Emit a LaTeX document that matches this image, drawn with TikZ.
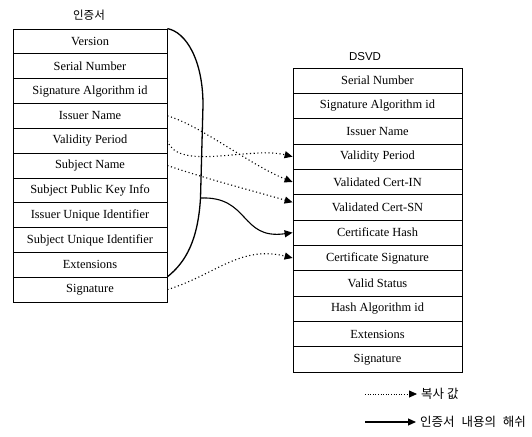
\documentclass[tikz,border=0pt]{standalone}
\usepackage{fontspec}
\setmainfont{Liberation Serif}
\newfontfamily\krfont{Noto Sans CJK KR}
\newfontfamily\dsvdfont{Liberation Sans}
\usepackage{tikz}
\usetikzlibrary{arrows.meta, positioning, calc}

\tikzset{
  certfield/.style={draw, line width=0.8pt, minimum width=154pt, minimum height=24.82pt,
    inner sep=0pt, font=\fontsize{12.4}{14}\selectfont},
  dsvdfield/.style={certfield, minimum width=169pt, minimum height=25.33pt},
  tabletitle/.style={inner sep=0pt, font=\krfont\fontsize{11.5}{13}\selectfont},
  copyline/.style={line width=1.1pt, dash pattern=on 1.1pt off 2.6pt,
    -{Triangle[length=8pt,width=7pt]}},
  hashline/.style={line width=1.1pt, -{Triangle[length=8pt,width=7pt]}},
  legendtext/.style={anchor=west, inner sep=0pt, font=\krfont\fontsize{12.5}{14}\selectfont}
}

\begin{document}
\begin{tikzpicture}[x=1pt, y=-1pt]
  \useasboundingbox (0,0) rectangle (532,436);

  % Certificate fields (left)
  \node[tabletitle] (certtitle) at (89,15) {인증서};
  \foreach \txt [count=\i] in {Version, Serial Number, Signature Algorithm id, Issuer Name,
      Validity Period, Subject Name, Subject Public Key Info, Issuer Unique Identifier,
      Subject Unique Identifier, Extensions, Signature}
    \node[certfield] (cert\i) at (90, {29+24.82*\i-12.41}) {\txt};

  % DSVD fields (right)
  \node[tabletitle, font=\dsvdfont\fontsize{11.5}{13}\selectfont] (dsvdtitle) at (365,57) {DSVD};
  \foreach \txt [count=\i] in {Serial Number, Signature Algorithm id, Issuer Name,
      Validity Period, Validated Cert-IN, Validated Cert-SN, Certificate Hash,
      Certificate Signature, Valid Status, Hash Algorithm id, Extensions, Signature}
    \node[dsvdfield] (dsvd\i) at (377.5, {68+25.33*\i-12.665}) {\txt};

  % Bracket over the signed part
  \coordinate (hashfrom) at (200.5,198);
  \draw[line width=1.3pt] (cert1.north east) .. controls (186,32) and (203,60) .. (203,105)
    -- (hashfrom) .. controls (198,240) and (186,262) .. (cert11.north east);

  % Copied values
  \draw[copyline] (cert4.east) .. controls (200,125) and (250,165) .. (dsvd5.west);
  \draw[copyline] (cert5.east) .. controls (178,172) and (250,146) .. (dsvd4.west);
  \draw[copyline] (cert6.east) .. controls (210,180) and (250,190) .. ([yshift=5pt]dsvd6.west);
  \draw[copyline] (cert11.east) .. controls (215,275) and (240,245) .. (dsvd8.west);

  % Hash of the certificate
  \draw[hashline] (hashfrom) .. controls (250,196) and (240,240) .. (dsvd7.west);

  % Legend
  \node[legendtext] (copylabel) at (421,394) {복사 값};
  \node[legendtext] (hashlabel) at (420,422) {인증서\hspace{4pt} 내용의\hspace{4pt} 해쉬};
  \coordinate (copyfrom) at (365,394);
  \coordinate (hashstart) at (365,422);
  \draw[copyline, line width=0.8pt, dash pattern=on 0.8pt off 1.8pt] (copyfrom) -- ([xshift=-4pt]copylabel.west);
  \draw[hashline] (hashstart) -- ([xshift=-4pt]hashlabel.west);
\end{tikzpicture}
\end{document}
